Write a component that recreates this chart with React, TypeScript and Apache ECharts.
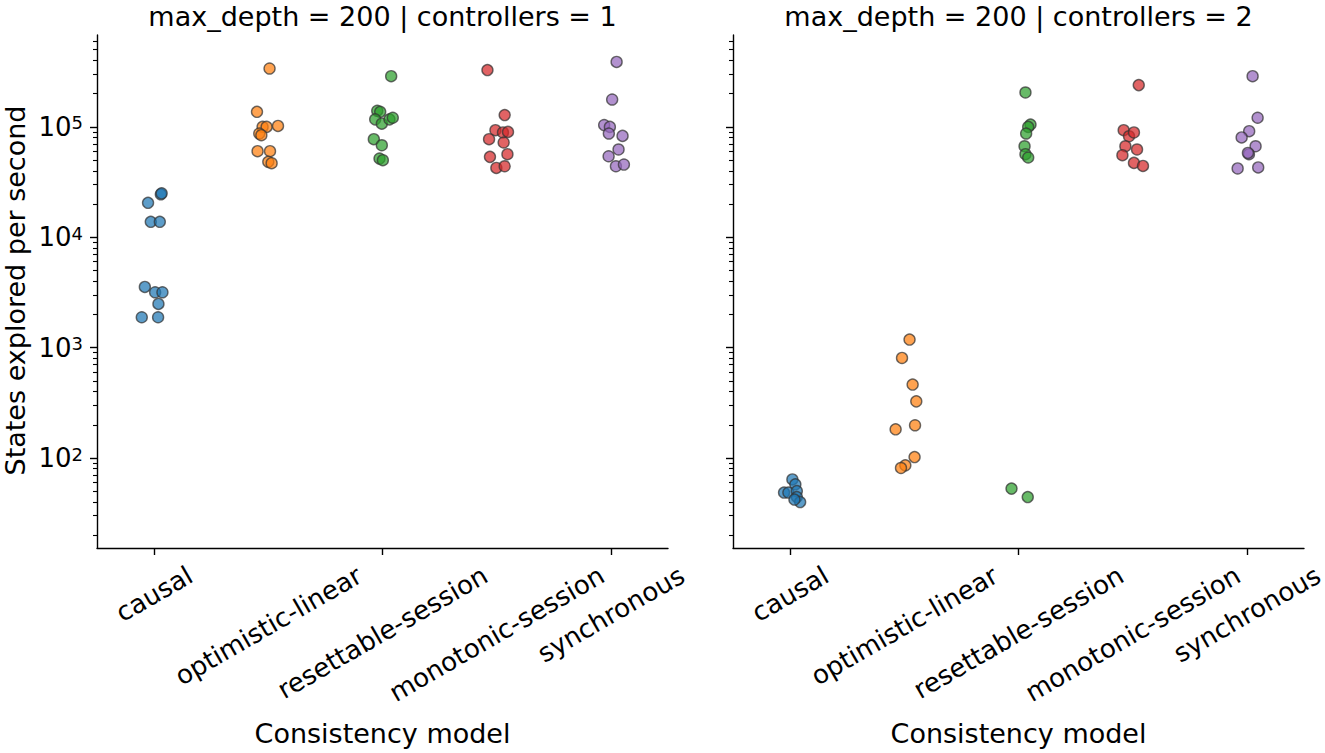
import React, { useEffect, useRef } from "react";
import * as echarts from "echarts";

const CATEGORIES = ["causal", "optimistic-linear", "resettable-session", "monotonic-session", "synchronous"];
const COLORS = ["#1f77b4", "#ff7f0e", "#2ca02c", "#d62728", "#9467bd"];
const PANEL_TITLES = ["max_depth = 200 | controllers = 1", "max_depth = 200 | controllers = 2"];
const X_LABEL = "Consistency model";
const Y_LABEL = "States explored per second";
const Y_MAJOR_EXPONENTS = [2, 3, 4, 5];
const Y_MIN = 15.3;
const Y_MAX = 680000;

// controllers = 1
const c1Causal = [24500, 25000, 20500, 13800, 13800, 3550, 3175, 3175, 2490, 1885, 1885];
const c1CausalJitter = [0.059, 0.066, -0.053, -0.029, 0.05, -0.081, 0.009, 0.073, 0.038, -0.108, 0.035];
const c1Optimistic = [338000, 137000, 100000, 100000, 102000, 87100, 84100, 60200, 60200, 48200, 46900];
const c1OptimisticJitter = [0.011, -0.099, -0.05, -0.015, 0.085, -0.079, -0.061, -0.094, 0.015, 0.0, 0.029];
const c1Resettable = [288000, 140000, 137000, 117000, 107000, 117000, 121000, 77400, 68200, 51700, 49900];
const c1ResettableJitter = [0.076, -0.046, -0.02, -0.064, -0.006, 0.061, 0.09, -0.076, -0.006, -0.026, 0.003];
const c1Monotonic = [327000, 128000, 93300, 89000, 90100, 77400, 72200, 53500, 56600, 42500, 44000];
const c1MonotonicJitter = [-0.081, 0.07, -0.011, 0.055, 0.099, -0.067, 0.061, -0.059, 0.094, -0.003, 0.07];
const c1Synchronous = [388000, 177000, 104000, 100000, 87100, 82900, 62400, 54200, 44000, 45600];
const c1SynchronousJitter = [0.05, 0.011, -0.059, -0.009, -0.018, 0.102, 0.067, -0.02, 0.044, 0.114];

// controllers = 2
const c2Causal = [64, 57.8, 48.6, 48.6, 50.2, 44.3, 39.9, 42];
const c2CausalJitter = [0.02, 0.046, -0.053, -0.015, 0.059, 0.059, 0.088, 0.038];
const c2Optimistic = [1183, 806, 463, 326, 198, 182, 102, 85.9, 81.2];
const c2OptimisticJitter = [0.046, -0.02, 0.073, 0.105, 0.094, -0.076, 0.09, 0.009, -0.029];
const c2Resettable = [205000, 105000, 100000, 87100, 66800, 56600, 52800, 52.8, 44.3];
const c2ResettableJitter = [0.061, 0.105, 0.085, 0.067, 0.053, 0.061, 0.085, -0.061, 0.081];
const c2Monotonic = [239000, 93300, 82300, 89000, 66800, 62400, 55400, 47200, 44300];
const c2MonotonicJitter = [0.053, -0.079, -0.032, 0.011, -0.064, 0.038, -0.09, 0.011, 0.09];
const c2Synchronous = [288000, 121000, 91400, 80200, 66800, 56600, 58100, 42000, 42900];
const c2SynchronousJitter = [0.05, 0.094, 0.02, -0.046, 0.076, 0.018, 0.009, -0.081, 0.099];

const PANELS = [
  [
    [c1Causal, c1CausalJitter],
    [c1Optimistic, c1OptimisticJitter],
    [c1Resettable, c1ResettableJitter],
    [c1Monotonic, c1MonotonicJitter],
    [c1Synchronous, c1SynchronousJitter],
  ],
  [
    [c2Causal, c2CausalJitter],
    [c2Optimistic, c2OptimisticJitter],
    [c2Resettable, c2ResettableJitter],
    [c2Monotonic, c2MonotonicJitter],
    [c2Synchronous, c2SynchronousJitter],
  ],
];

const FONT = "'DejaVu Sans', sans-serif";
const TICK_FS = 26;
const LABEL_FS = 27;
const GRID_TOP = 35;
const GRID_H = 513;
const GRID_W = 571;
const GRID_LEFTS = [97, 733];

const LMIN = Math.log10(Y_MIN);
const LMAX = Math.log10(Y_MAX);

function minorTicks(): number[] {
  const out: number[] = [];
  for (let n = 0; n <= 6; n++) {
    for (let k = 2; k <= 9; k++) {
      const v = Math.log10(k * Math.pow(10, n));
      if (v > LMIN && v < LMAX) out.push(v);
    }
  }
  return out;
}

export default function App() {
  const ref = useRef<HTMLDivElement>(null);
  useEffect(() => {
    if (!ref.current) return;
    const chart = echarts.init(ref.current, null, { renderer: "svg" });
    const minors = minorTicks();
    const axisLineStyle = { color: "#000", width: 1.4 };

    const grid = GRID_LEFTS.map((l) => ({ left: l, top: GRID_TOP, width: GRID_W, height: GRID_H }));
    const xAxis: any[] = [];
    const yAxis: any[] = [];
    [0, 1].forEach((p) => {
      xAxis.push({
        type: "category",
        gridIndex: p,
        position: "bottom",
        data: CATEGORIES,
        boundaryGap: true,
        axisLine: { show: true, onZero: false, lineStyle: axisLineStyle },
        axisTick: { show: true, alignWithLabel: true, length: 7, lineStyle: { color: "#000", width: 1.4 } },
        axisLabel: { show: false },
        splitLine: { show: false },
      });
      xAxis.push({ type: "value", gridIndex: p, min: -0.5, max: 4.5, show: false, axisLine: { onZero: false } });
      yAxis.push({
        type: "value",
        gridIndex: p,
        position: "left",
        min: LMIN,
        max: LMAX,
        axisLine: { show: true, onZero: false, lineStyle: axisLineStyle },
        axisTick: { show: true, length: 7, customValues: Y_MAJOR_EXPONENTS, lineStyle: { color: "#000", width: 1.4 } },
        axisLabel: {
          show: p === 0,
          customValues: Y_MAJOR_EXPONENTS,
          margin: 14,
          color: "#000",
          fontFamily: FONT,
          fontSize: TICK_FS,
          formatter: (v: number) => `10{sup|${Math.round(v)}}`,
          rich: {
            sup: { fontSize: 18, fontFamily: FONT, color: "#000", verticalAlign: "top", padding: [0, 0, 6, 0] },
          },
        },
        splitLine: { show: false },
      });
      yAxis.push({
        type: "value",
        gridIndex: p,
        position: "left",
        offset: 0,
        min: LMIN,
        max: LMAX,
        axisLine: { show: false, onZero: false },
        axisTick: { show: true, length: 4, customValues: minors, lineStyle: { color: "#000", width: 1.1 } },
        axisLabel: { show: false },
        splitLine: { show: false },
      });
    });

    const series: any[] = [];
    PANELS.forEach((panel, p) => {
      panel.forEach(([vals, jit], c) => {
        series.push({
          type: "scatter",
          name: `${PANEL_TITLES[p]} ${CATEGORIES[c]}`,
          xAxisIndex: p * 2 + 1,
          yAxisIndex: p * 2,
          symbolSize: 11,
          itemStyle: { color: COLORS[c], opacity: 0.72, borderColor: "#333", borderWidth: 1.4 },
          data: (vals as number[]).map((v, i) => [c + (jit as number[])[i], Math.log10(v)]),
        });
      });
    });

    chart.setOption({ animation: false, grid, xAxis, yAxis, series });

    const canvas = document.createElement("canvas");
    const ctx = canvas.getContext("2d")!;
    ctx.font = `${TICK_FS}px 'DejaVu Sans'`;
    const ang = Math.PI / 6;
    const graphics: any[] = [];
    const axisY = GRID_TOP + GRID_H;
    const labelTop = axisY + 7 + 5;
    [0, 1].forEach((p) => {
      CATEGORIES.forEach((cat) => {
        const px = chart.convertToPixel({ xAxisIndex: p * 2 }, cat) as number;
        const L = ctx.measureText(cat).width;
        const h = TICK_FS * 1.16;
        const H = L * Math.sin(ang) + h * Math.cos(ang);
        graphics.push({
          type: "text",
          x: px,
          y: labelTop + H / 2,
          rotation: ang,
          style: { text: cat, font: `${TICK_FS}px ${FONT}`, fill: "#000", align: "center", verticalAlign: "middle" },
        });
      });
      const cx = GRID_LEFTS[p] + GRID_W / 2;
      graphics.push({
        type: "text",
        x: cx,
        y: 16,
        style: { text: PANEL_TITLES[p], font: `${LABEL_FS}px ${FONT}`, fill: "#000", align: "center", verticalAlign: "middle" },
      });
      graphics.push({
        type: "text",
        x: cx,
        y: 733,
        style: { text: X_LABEL, font: `${LABEL_FS}px ${FONT}`, fill: "#000", align: "center", verticalAlign: "middle" },
      });
    });
    graphics.push({
      type: "text",
      x: 15,
      y: GRID_TOP + GRID_H / 2 - 1,
      rotation: Math.PI / 2,
      style: { text: Y_LABEL, font: `${LABEL_FS}px ${FONT}`, fill: "#000", align: "center", verticalAlign: "middle" },
    });
    chart.setOption({ graphic: graphics });

    return () => chart.dispose();
  }, []);
  return <div ref={ref} style={{ position: "fixed", left: 0, top: 0, width: 1325, height: 753, background: "#fff" }} />;
}
